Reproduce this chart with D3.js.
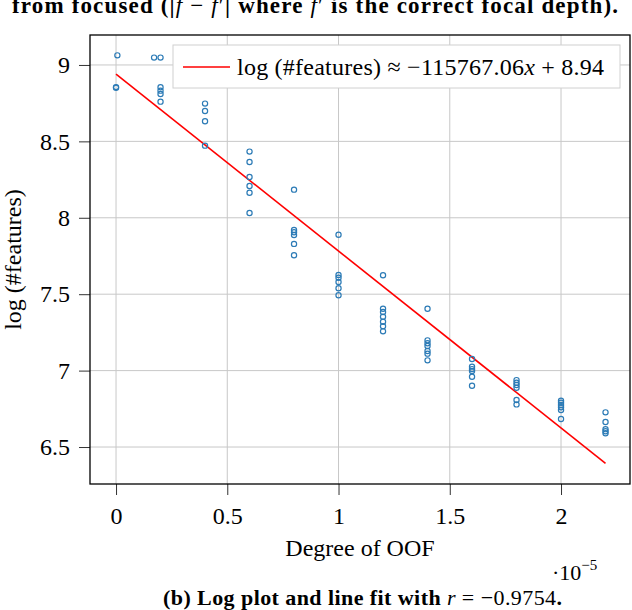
<!DOCTYPE html>
<html>
<head>
<meta charset="utf-8">
<script src="https://cdn.jsdelivr.net/npm/d3@7"></script>
<style>
  body { margin: 0; background: #fff; }
  svg { font-family: "Liberation Serif", "DejaVu Serif", serif; }
  .grid line { stroke: #c8c8c8; stroke-width: 1; }
  .axis path { display: none; }
  .axis line { stroke: #333; }
  .axis text { font-size: 24px; fill: #000; font-family: "Liberation Serif", serif; }
</style>
</head>
<body>
<svg id="chart" width="632" height="610"></svg>
<script>
// degree of OOF, in units of 1e-5
var oof = [0, 0, 0.006,
    0.171, 0.2, 0.2, 0.2, 0.2, 0.2,
    0.4, 0.4, 0.4, 0.4,
    0.6, 0.6, 0.6, 0.6, 0.6, 0.6,
    0.8, 0.8, 0.8, 0.8, 0.8, 0.8,
    1.0, 1.0, 1.0, 1.0, 1.0, 1.0,
    1.2, 1.2, 1.2, 1.2, 1.2, 1.2, 1.2,
    1.4, 1.4, 1.4, 1.4, 1.4, 1.4, 1.4,
    1.6, 1.6, 1.6, 1.6, 1.6, 1.6,
    1.8, 1.8, 1.8, 1.8, 1.8, 1.8,
    2.0, 2.0, 2.0, 2.0, 2.0, 2.0,
    2.2, 2.2, 2.2, 2.2, 2.2];
var logFeatures = [8.855, 8.851, 9.063,
    9.048, 9.048, 8.854, 8.832, 8.810, 8.760,
    8.747, 8.699, 8.632, 8.472,
    8.433, 8.365, 8.267, 8.208, 8.164, 8.031,
    8.184, 7.920, 7.905, 7.887, 7.829, 7.755,
    7.889, 7.626, 7.608, 7.580, 7.539, 7.493,
    7.624, 7.405, 7.383, 7.353, 7.320, 7.290, 7.257,
    7.405, 7.198, 7.179, 7.161, 7.128, 7.111, 7.067,
    7.076, 7.026, 7.010, 6.997, 6.960, 6.901,
    6.938, 6.921, 6.906, 6.888, 6.808, 6.779,
    6.803, 6.790, 6.775, 6.760, 6.742, 6.683,
    6.727, 6.664, 6.617, 6.603, 6.590];
var xTicks = [0, 0.5, 1, 1.5, 2];
var yTicks = [6.5, 7, 7.5, 8, 8.5, 9];
// line fit from legend: log(#features) = -115767.06 x + 8.94
var fitSlope = -115767.06, fitIntercept = 8.94;
var fitRange = [0, 2.2];

function drawChart() {
    var svg = d3.select("#chart"),
        pLeft = 90, pRight = 630, pTop = 35, pBottom = 484;

    var x = d3.scaleLinear().domain([-0.117, 2.31]).range([pLeft, pRight]),
        y = d3.scaleLinear().domain([6.258, 9.196]).range([pBottom, pTop]);

    // grid
    var grid = svg.append("g").attr("class", "grid");
    grid.selectAll("line.v").data(xTicks).enter().append("line")
        .attr("class", "v")
        .attr("x1", d => x(d)).attr("x2", d => x(d))
        .attr("y1", pTop).attr("y2", pBottom);
    grid.selectAll("line.h").data(yTicks).enter().append("line")
        .attr("class", "h")
        .attr("y1", d => y(d)).attr("y2", d => y(d))
        .attr("x1", pLeft).attr("x2", pRight);

    // axes
    svg.append("g").attr("class", "axis")
        .attr("transform", "translate(0," + pBottom + ")")
        .call(d3.axisBottom(x).tickValues(xTicks).tickSize(11).tickPadding(12)
            .tickFormat(d3.format("")));
    svg.append("g").attr("class", "axis")
        .attr("transform", "translate(" + pLeft + ",0)")
        .call(d3.axisLeft(y).tickValues(yTicks).tickSize(11).tickPadding(9)
            .tickFormat(d3.format("")));

    // fit line
    svg.append("line")
        .attr("x1", x(fitRange[0])).attr("y1", y(fitIntercept + fitSlope * fitRange[0] * 1e-5))
        .attr("x2", x(fitRange[1])).attr("y2", y(fitIntercept + fitSlope * fitRange[1] * 1e-5))
        .attr("stroke", "#ff0000").attr("stroke-width", 1.6);

    // points
    svg.append("g").selectAll("circle")
        .data(oof.map((v, i) => [v, logFeatures[i]]))
        .enter().append("circle")
        .attr("cx", d => x(d[0])).attr("cy", d => y(d[1]))
        .attr("r", 2.6)
        .attr("fill", "none").attr("stroke", "#2c7bb6").attr("stroke-width", 1.2);

    // frame
    svg.append("rect")
        .attr("x", pLeft).attr("y", pTop)
        .attr("width", pRight - pLeft).attr("height", pBottom - pTop)
        .attr("fill", "none").attr("stroke", "#000").attr("stroke-width", 1.3);

    // legend
    var lg = svg.append("g");
    lg.append("rect").attr("x", 173).attr("y", 45).attr("width", 447).attr("height", 43)
        .attr("fill", "#fff").attr("stroke", "#d0d0d0").attr("stroke-width", 1);
    lg.append("line").attr("x1", 183).attr("x2", 230).attr("y1", 67).attr("y2", 67)
        .attr("stroke", "#ff0000").attr("stroke-width", 1.6);
    var lt = lg.append("text").attr("x", 237).attr("y", 75).attr("font-size", 24)
        .attr("textLength", 367).attr("lengthAdjust", "spacing");
    lt.append("tspan").text("log (#features) \u2248 \u2212115767.06");
    lt.append("tspan").attr("font-style", "italic").text("x");
    lt.append("tspan").text(" + 8.94");

    // axis labels
    svg.append("text").attr("x", (pLeft + pRight) / 2).attr("y", 556)
        .attr("text-anchor", "middle").attr("font-size", 24).text("Degree of OOF");
    svg.append("text")
        .attr("transform", "translate(21," + (pTop + pBottom) / 2 + ") rotate(-90)")
        .attr("text-anchor", "middle").attr("font-size", 24).text("log (#features)");
    var sc = svg.append("text").attr("x", 552).attr("y", 580).attr("font-size", 22);
    sc.append("tspan").text("\u00b710");
    sc.append("tspan").attr("dy", -10).attr("font-size", 15).text("\u22125");

    // captions
    var cap = svg.append("text").attr("x", 163).attr("y", 605)
        .attr("font-size", 22).attr("font-weight", "bold")
        .attr("textLength", 399).attr("lengthAdjust", "spacing");
    cap.append("tspan").text("(b) Log plot and line fit with ");
    cap.append("tspan").attr("font-style", "italic").attr("font-weight", "normal").text("r");
    cap.append("tspan").attr("font-weight", "normal").text(" = \u22120.9754");
    cap.append("tspan").text(".");

    var head = svg.append("text").attr("x", 12).attr("y", 13)
        .attr("font-size", 23).attr("font-weight", "bold")
        .attr("textLength", 606).attr("lengthAdjust", "spacing");
    head.append("tspan").text("from focused (|");
    head.append("tspan").attr("font-style", "italic").attr("font-weight", "normal").text("f");
    head.append("tspan").attr("font-weight", "normal").text(" \u2212 ");
    head.append("tspan").attr("font-style", "italic").attr("font-weight", "normal").text("f");
    head.append("tspan").attr("font-weight", "normal").text("\u2032");
    head.append("tspan").text("| where ");
    head.append("tspan").attr("font-style", "italic").attr("font-weight", "normal").text("f");
    head.append("tspan").attr("font-weight", "normal").text("\u2032");
    head.append("tspan").text(" is the correct focal depth).");
}

drawChart();
</script>
</body>
</html>
